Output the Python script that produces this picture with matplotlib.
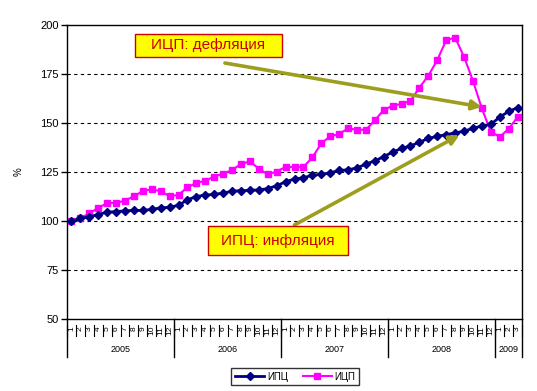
import matplotlib
matplotlib.use("Agg")
import matplotlib.pyplot as plt
from matplotlib.patches import Rectangle
import numpy as np

plt.rcParams['font.family'] = ['Liberation Sans', 'DejaVu Sans']

years = ["2005", "2006", "2007", "2008", "2009"]
months_per_year = [12, 12, 12, 12, 3]
month_labels = [str(m) for n in months_per_year for m in range(1, n + 1)]

ipc = [100, 101.3, 102.1, 103.3, 104.5, 104.8, 105.2, 105.4, 105.4, 105.9, 106.7, 107.0,
       108.0, 110.8, 112.5, 113.2, 113.6, 114.2, 115.2, 115.5, 115.6, 115.9, 116.5, 118.0,
       120.0, 121.4, 122.1, 123.3, 123.8, 124.6, 125.8, 126.1, 127.1, 129.0, 130.7, 132.8,
       135.2, 137.0, 138.3, 140.2, 142.1, 143.2, 144.1, 144.9, 145.8, 147.3, 148.5, 149.3,
       153.0, 155.9, 157.8]
icp = [100, 101.3, 104.0, 106.6, 109.2, 109.2, 110.4, 112.6, 115.3, 116.2, 115.2, 112.6,
       113.3, 117.2, 119.4, 120.5, 122.7, 124.1, 126.0, 129.1, 130.4, 126.7, 123.8, 125.2,
       127.6, 127.6, 127.6, 132.4, 139.6, 143.2, 144.4, 147.2, 146.6, 146.5, 151.3, 156.7,
       158.8, 159.8, 161.2, 168.1, 174.1, 182.1, 192.2, 193.6, 183.8, 171.6, 157.4, 145.6,
       142.9, 147.0, 153.0]
series_names = ["ИПЦ", "ИЦП"]
notes = ["ИЦП: дефляция", "ИПЦ: инфляция"]
yticks = [50, 75, 100, 125, 150, 175, 200]

W, H = 537, 391
fig = plt.figure(figsize=(W/100, H/100), dpi=100)
ax = fig.add_axes([67/W, 1 - 319/H, (522-67)/W, (319-25)/H])

x = np.arange(len(ipc))
l1, = ax.plot(x, ipc, color='#000080', lw=2.0, marker='D', ms=4.5, mec='#000080', mfc='#000080', zorder=4)
l2, = ax.plot(x, icp, color='#FF00FF', lw=1.5, marker='s', ms=4.6, mec='#FF00FF', mfc='#FF00FF', zorder=3)

ax.set_xlim(-0.5, len(ipc) - 0.5)
ax.set_ylim(50, 200)
ax.set_yticks(yticks)
ax.set_yticklabels([str(v) for v in yticks], fontsize=8)
for v in yticks[1:-1]:
    ax.axhline(v, color='black', lw=0.8, ls=(0, (3, 3)), zorder=1)

for s in ['top', 'right', 'left', 'bottom']:
    ax.spines[s].set_linewidth(1.0)
ax.tick_params(axis='y', direction='out', length=4, width=1, pad=2)

ax.set_xticks(x)
ax.set_xticklabels(month_labels, rotation=90, fontsize=6)
ax.tick_params(axis='x', which='major', length=0, pad=5)

trans = ax.get_xaxis_transform()
for b in np.arange(-0.5, len(ipc), 1.0):
    ax.plot([b, b], [-6/294, -17/294], color='black', lw=0.8, transform=trans, clip_on=False)
bounds = np.concatenate([[-0.5], np.cumsum(months_per_year) - 0.5])
for b in bounds:
    ax.plot([b, b], [0, -38/294], color='black', lw=1.0, transform=trans, clip_on=False)
for i, yname in enumerate(years):
    c = (bounds[i] + bounds[i+1]) / 2
    ax.text(c, -30/294, yname, transform=trans, ha='center', va='center', fontsize=6.5)

ax.set_ylabel('%', fontsize=7, labelpad=12)

arrow_col = '#9E9E1E'
ax.annotate('', xy=(46, 158.2), xytext=(17.2, 180.6),
            arrowprops=dict(arrowstyle='-|>', color=arrow_col, lw=2.6, mutation_scale=14, shrinkA=0, shrinkB=0), zorder=5)
ax.annotate('', xy=(43.5, 143.9), xytext=(25.0, 98),
            arrowprops=dict(arrowstyle='-|>', color=arrow_col, lw=2.6, mutation_scale=14, shrinkA=0, shrinkB=0), zorder=5)

# note boxes (pixel layout from top-left)
for (x0, y0, x1, y1), txt in zip([(135, 34, 282, 57), (208, 226, 348, 255)], notes):
    fig.patches.append(Rectangle((x0/W, 1 - y1/H), (x1-x0)/W, (y1-y0)/H, transform=fig.transFigure,
                                 fc='#FFFF00', ec='#CC0000', lw=1.0, zorder=6))
    fig.text((x0+x1)/2/W, 1 - (y0+y1)/2/H, txt, ha='center', va='center', fontsize=11,
             color='#CC0000', zorder=7)

leg = fig.legend([l1, l2], series_names, loc='center', bbox_to_anchor=(0.55, 0.037), ncol=2,
                 fontsize=7, frameon=True, fancybox=False, edgecolor='black', handlelength=3,
                 columnspacing=1.5, borderpad=0.4, handletextpad=0.3)
leg.get_frame().set_linewidth(1.0)

fig.savefig('out.png', dpi=100)
